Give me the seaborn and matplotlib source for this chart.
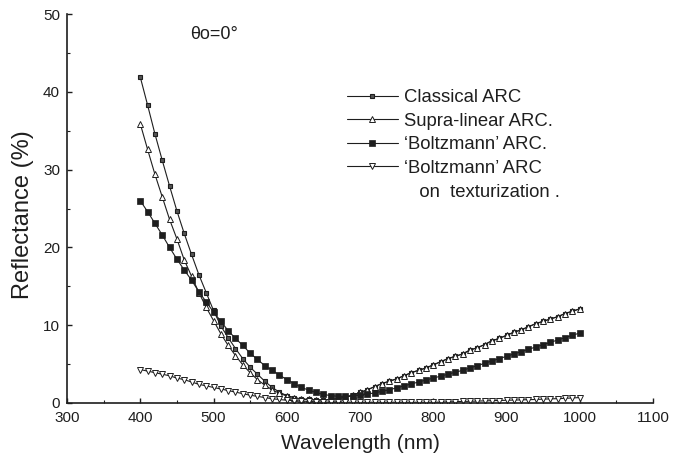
import numpy as np
import pandas as pd
import matplotlib
matplotlib.use("Agg")
import matplotlib.pyplot as plt
from matplotlib.ticker import MultipleLocator
from matplotlib.lines import Line2D
import seaborn as sns

wavelength = list(range(400, 1001, 10))

classical = [41.9, 38.3, 34.6, 31.2, 27.9, 24.7, 21.8, 19.1, 16.5, 14.2,
             11.9, 9.9, 8.4, 7.0, 5.7, 4.6, 3.7, 2.8, 2.0, 1.4,
             0.95, 0.7, 0.5, 0.45, 0.4, 0.4, 0.45, 0.55, 0.75, 1.0,
             1.35, 1.7, 2.1, 2.5, 2.8, 3.1, 3.5, 3.9, 4.2, 4.5,
             4.9, 5.3, 5.7, 6.0, 6.3, 6.8, 7.1, 7.5, 8.0, 8.3,
             8.7, 9.1, 9.4, 9.8, 10.2, 10.5, 10.8, 11.1, 11.5, 11.8, 12.1]

supralinear = [35.9, 32.6, 29.4, 26.5, 23.6, 21.1, 18.4, 16.3, 14.2, 12.3,
               10.6, 8.9, 7.4, 6.1, 4.9, 3.9, 3.0, 2.3, 1.7, 1.25,
               0.9, 0.7, 0.5, 0.45, 0.4, 0.4, 0.45, 0.55, 0.75, 1.0,
               1.35, 1.7, 2.1, 2.5, 2.8, 3.1, 3.5, 3.9, 4.2, 4.5,
               4.9, 5.3, 5.7, 6.0, 6.3, 6.8, 7.1, 7.5, 8.0, 8.3,
               8.7, 9.1, 9.4, 9.8, 10.2, 10.5, 10.8, 11.1, 11.5, 11.8, 12.1]

boltzmann = [26.0, 24.6, 23.1, 21.6, 20.0, 18.5, 17.1, 15.8, 14.3, 13.0,
             11.7, 10.5, 9.3, 8.3, 7.4, 6.4, 5.6, 4.8, 4.2, 3.6,
             3.0, 2.5, 2.0, 1.65, 1.35, 1.1, 0.95, 0.86, 0.85, 0.9,
             1.0, 1.15, 1.3, 1.5, 1.7, 1.95, 2.2, 2.45, 2.7, 2.95,
             3.2, 3.45, 3.7, 3.95, 4.2, 4.5, 4.8, 5.1, 5.4, 5.7,
             6.0, 6.3, 6.6, 6.9, 7.2, 7.5, 7.8, 8.1, 8.4, 8.7, 9.0]

textured = [4.3, 4.1, 3.9, 3.7, 3.5, 3.2, 3.0, 2.7, 2.4, 2.2,
            2.0, 1.8, 1.6, 1.4, 1.2, 1.0, 0.85, 0.7, 0.55, 0.45,
            0.35, 0.3, 0.25, 0.2, 0.15, 0.12, 0.1, 0.1, 0.1, 0.1,
            0.1, 0.1, 0.1, 0.1, 0.1, 0.1, 0.1, 0.1, 0.1, 0.1,
            0.1, 0.12, 0.15, 0.17, 0.2, 0.22, 0.25, 0.27, 0.3, 0.32,
            0.35, 0.38, 0.4, 0.43, 0.45, 0.5, 0.53, 0.56, 0.6, 0.65, 0.7]

series_labels = ["Classical ARC", "Supra-linear ARC.", "\u2018Boltzmann\u2019 ARC.",
                 "\u2018Boltzmann\u2019 ARC"]
label_continuation = "   on  texturization ."

sns.set_theme(style="white")
plt.rcParams['font.family'] = ['Liberation Sans', 'DejaVu Sans']

df = pd.DataFrame({
    "wavelength": wavelength * 4,
    "reflectance": classical + supralinear + boltzmann + textured,
    "series": sum([[s] * len(wavelength) for s in series_labels], []),
})

fig = plt.figure(figsize=(6.73, 4.57), dpi=100)
ax = fig.add_axes([67 / 673, 1 - 403 / 457, (653 - 67) / 673, (403 - 14) / 457])

ink = "#1e1e1e"
styles = [
    dict(marker="s", markersize=3.0, markerfacecolor="#555555", markeredgecolor=ink, markeredgewidth=0.8),
    dict(marker="^", markersize=4.6, markerfacecolor="white", markeredgecolor=ink, markeredgewidth=0.7),
    dict(marker="s", markersize=4.2, markerfacecolor=ink, markeredgecolor=ink, markeredgewidth=0.5),
    dict(marker="v", markersize=4.6, markerfacecolor="white", markeredgecolor=ink, markeredgewidth=0.7),
]
for lab, st in zip(series_labels, styles):
    sub = df[df["series"] == lab]
    sns.lineplot(data=sub, x="wavelength", y="reflectance", ax=ax, color=ink,
                 linewidth=0.8, label=lab, **st)

ax.set_xlim(300, 1100)
ax.set_ylim(0, 50)
ax.xaxis.set_major_locator(MultipleLocator(100))
ax.xaxis.set_minor_locator(MultipleLocator(50))
ax.yaxis.set_major_locator(MultipleLocator(10))
ax.yaxis.set_minor_locator(MultipleLocator(5))
ax.tick_params(which="major", direction="in", length=3.5, width=1, color=ink,
               labelsize=11, labelcolor=ink, bottom=True, left=True)
ax.tick_params(axis="x", which="major", pad=6)
ax.tick_params(axis="y", which="major", pad=5)
ax.tick_params(which="minor", direction="in", length=2, width=0.8, color=ink,
               bottom=True, left=True)
for s in ["top", "right"]:
    ax.spines[s].set_visible(False)
for s in ["left", "bottom"]:
    ax.spines[s].set_color(ink)
    ax.spines[s].set_linewidth(1.2)

ax.set_xlabel("Wavelength (nm)", fontsize=15, color=ink, labelpad=6)
ax.set_ylabel("Reflectance (%)", fontsize=17, color=ink, labelpad=4)
ax.yaxis.set_label_coords(-0.056, 0.485)

ax.text(468, 47.4, "\u03b8o=0\u00b0", fontsize=13, color=ink, va="center", ha="left")

handles, labels = ax.get_legend_handles_labels()
handles.append(Line2D([], [], linestyle="none", marker=None))
labels.append(label_continuation)
leg = ax.legend(handles, labels, loc="upper left",
                bbox_to_anchor=(347 / 673, 1 - 89 / 457), bbox_transform=fig.transFigure,
                frameon=False, fontsize=13.3, handlelength=2.75, handletextpad=0.35,
                labelspacing=0.36, borderpad=0, borderaxespad=0)
for t in leg.get_texts():
    t.set_color(ink)

fig.savefig("out.png", dpi=100, facecolor="white")
